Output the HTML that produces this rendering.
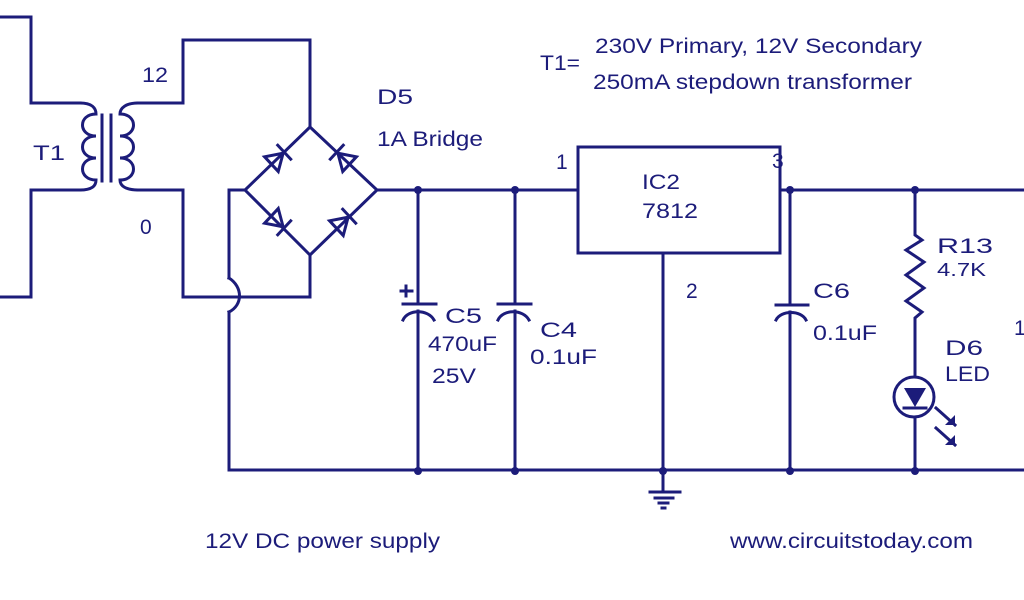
<!DOCTYPE html>
<html><head><style>
html,body{margin:0;padding:0;background:#fff;}
svg{display:block;}
text{font-family:"Liberation Sans",sans-serif;fill:#1c1c7a;}
</style></head><body>
<svg width="1024" height="600" viewBox="0 0 1024 600" xmlns="http://www.w3.org/2000/svg">
<g stroke="#1c1c7a" stroke-width="3" fill="none" stroke-linecap="square">
<polyline points="0,17 31,17 31,103 80,103"/>
<polyline points="0,297 31,297 31,190 80,190"/>
<path d="M80,103 C92,103 96,108 96,114 C78,114 78,136 96,136 C78,136 78,158 96,158 C78,158 78,180 96,180 C96,186 92,190 80,190"/>
<line x1="102" y1="115" x2="102" y2="181"/>
<line x1="111" y1="115" x2="111" y2="181"/>
<path d="M138,103 C126,103 120,108 120,114 C138,114 138,136 120,136 C138,136 138,158 120,158 C138,158 138,180 120,180 C120,186 126,190 138,190"/>
<polyline points="138,103 183,103 183,40 310,40 310,127"/>
<polyline points="138,190 183,190 183,297 310,297 310,255"/>
<polygon points="310,127 377,190 310,255 245,190"/>
<polyline points="245,190 229,190 229,278"/>
<path d="M229,278 C243,287 243,305 229,312"/>
<polyline points="229,312 229,470 1024,470"/>
<line x1="377" y1="190" x2="578" y2="190"/>
<line x1="780" y1="190" x2="1024" y2="190"/>
<rect x="578" y="147" width="202" height="106"/>
<line x1="663" y1="253" x2="663" y2="470"/>
<line x1="663" y1="470" x2="663" y2="492"/>
<line x1="650" y1="492" x2="680" y2="492"/>
<line x1="655" y1="498" x2="673" y2="498"/>
<line x1="659" y1="503" x2="668" y2="503"/>
<line x1="662" y1="508" x2="665" y2="508"/>
<line x1="418" y1="190" x2="418" y2="304"/>
<line x1="403" y1="304" x2="436" y2="304"/>
<path d="M403,320 C408,309 428,309 434,320"/>
<line x1="418" y1="311" x2="418" y2="470"/>
<line x1="401" y1="291" x2="412" y2="291"/>
<line x1="406" y1="286" x2="406" y2="296"/>
<line x1="515" y1="190" x2="515" y2="304"/>
<line x1="498" y1="304" x2="531" y2="304"/>
<path d="M498,320 C503,309 523,309 529,320"/>
<line x1="515" y1="311" x2="515" y2="470"/>
<line x1="790" y1="190" x2="790" y2="305"/>
<line x1="776" y1="305" x2="808" y2="305"/>
<path d="M776,320 C781,310 801,310 806,320"/>
<line x1="790" y1="312" x2="790" y2="470"/>
<polyline points="915,190 915,235 922,240 906,250 924,262 906,275 924,288 906,301 922,312 915,318 915,377"/>
<circle cx="914" cy="397" r="20"/>
<line x1="915" y1="417" x2="915" y2="470"/>
<line x1="904" y1="408" x2="926" y2="408"/>
<line x1="936" y1="408" x2="955" y2="425"/>
<line x1="936" y1="428" x2="955" y2="445"/>
</g>
<g fill="#1c1c7a">
<polygon points="904,388 926,388 915,407"/>
<polygon points="955,425 945,425 955,415"/>
<polygon points="955,445 945,445 955,435"/>
<g transform="translate(278,158) rotate(-43)"><polygon points="-9,-10 -9,10 7,0" fill="none" stroke="#1c1c7a" stroke-width="3"/><rect x="7" y="-11" width="3" height="22"/></g>
<g transform="translate(343,158) rotate(43)"><polygon points="9,-10 9,10 -7,0" fill="none" stroke="#1c1c7a" stroke-width="3"/><rect x="-10" y="-11" width="3" height="22"/></g>
<g transform="translate(278,222) rotate(43)"><polygon points="-9,-10 -9,10 7,0" fill="none" stroke="#1c1c7a" stroke-width="3"/><rect x="7" y="-11" width="3" height="22"/></g>
<g transform="translate(343,222) rotate(-43)"><polygon points="-9,-10 -9,10 7,0" fill="none" stroke="#1c1c7a" stroke-width="3"/><rect x="7" y="-11" width="3" height="22"/></g>
<circle cx="418" cy="190" r="4"/><circle cx="515" cy="190" r="4"/><circle cx="790" cy="190" r="4"/><circle cx="915" cy="190" r="4"/>
<circle cx="418" cy="471" r="4"/><circle cx="515" cy="471" r="4"/><circle cx="663" cy="471" r="4"/><circle cx="790" cy="471" r="4"/><circle cx="915" cy="471" r="4"/>
</g>
<g font-size="21">
<text x="33" y="160" textLength="32" lengthAdjust="spacingAndGlyphs">T1</text>
<text x="142" y="82" textLength="26" lengthAdjust="spacingAndGlyphs">12</text>
<text x="140" y="234">0</text>
<text x="377" y="104" textLength="36" lengthAdjust="spacingAndGlyphs">D5</text>
<text x="377" y="146" textLength="106" lengthAdjust="spacingAndGlyphs">1A Bridge</text>
<text x="540" y="70" textLength="40" lengthAdjust="spacingAndGlyphs">T1=</text>
<text x="595" y="53" textLength="327" lengthAdjust="spacingAndGlyphs">230V Primary, 12V Secondary</text>
<text x="593" y="89" textLength="319" lengthAdjust="spacingAndGlyphs">250mA stepdown transformer</text>
<text x="556" y="169">1</text>
<text x="772" y="168">3</text>
<text x="642" y="189" textLength="38" lengthAdjust="spacingAndGlyphs">IC2</text>
<text x="642" y="218" textLength="56" lengthAdjust="spacingAndGlyphs">7812</text>
<text x="686" y="298">2</text>
<text x="445" y="323" textLength="37" lengthAdjust="spacingAndGlyphs">C5</text>
<text x="428" y="351" textLength="69" lengthAdjust="spacingAndGlyphs">470uF</text>
<text x="432" y="383" textLength="44" lengthAdjust="spacingAndGlyphs">25V</text>
<text x="540" y="337" textLength="37" lengthAdjust="spacingAndGlyphs">C4</text>
<text x="530" y="364" textLength="67" lengthAdjust="spacingAndGlyphs">0.1uF</text>
<text x="813" y="298" textLength="37" lengthAdjust="spacingAndGlyphs">C6</text>
<text x="813" y="340" textLength="64" lengthAdjust="spacingAndGlyphs">0.1uF</text>
<text x="937" y="253" textLength="56" lengthAdjust="spacingAndGlyphs">R13</text>
<text x="937" y="276" font-size="18" textLength="49" lengthAdjust="spacingAndGlyphs">4.7K</text>
<text x="945" y="355" textLength="38" lengthAdjust="spacingAndGlyphs">D6</text>
<text x="945" y="381" textLength="45" lengthAdjust="spacingAndGlyphs">LED</text>
<text x="1014" y="335">1</text>
<text x="205" y="548" textLength="235" lengthAdjust="spacingAndGlyphs">12V DC power supply</text>
<text x="730" y="548" textLength="243" lengthAdjust="spacingAndGlyphs">www.circuitstoday.com</text>
</g>
</svg>
</body></html>
